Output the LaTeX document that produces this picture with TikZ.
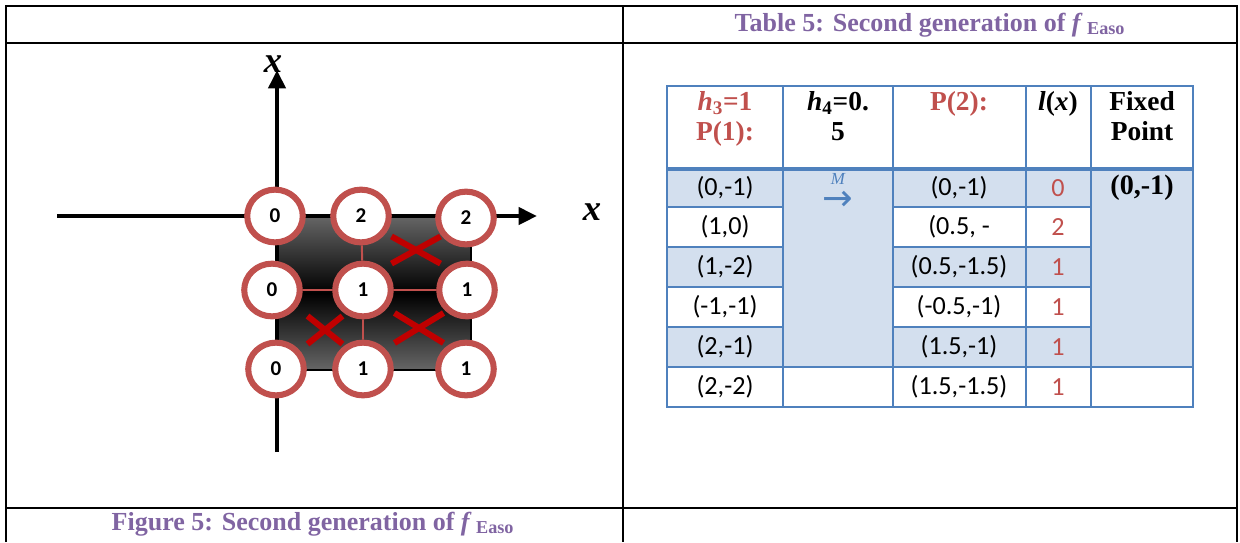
\documentclass[tikz,border=0pt]{standalone}
\usepackage{fontspec}
\setmainfont{Liberation Serif}
\newfontfamily\calibri{Carlito}
\newfontfamily\arrowfont{DejaVu Sans}
\usetikzlibrary{arrows.meta,shapes.geometric,shapes.misc}
\definecolor{capviolet}{HTML}{8064A2}
\definecolor{ringred}{HTML}{C0504D}
\definecolor{crossred}{HTML}{C00000}
\definecolor{tabblue}{HTML}{4F81BD}
\definecolor{rowblue}{HTML}{D3DFEE}

\begin{document}
\begin{tikzpicture}[x=0.025cm,y=-0.025cm,
  ring/.style={ellipse,draw=ringred,line width=4.3pt,fill=white,minimum width=39.5pt,
    minimum height=37.5pt,inner sep=0pt,font=\calibri\bfseries\fontsize{15}{15}\selectfont},
  link/.style={ringred,line width=1.4pt},
  cross/.style={cross out,draw=crossred,line width=4.3pt,inner sep=0pt},
  axis/.style={line width=2.8pt,-{Triangle[length=13pt,width=12pt]}},
  axlab/.style={font=\bfseries\itshape\fontsize{26}{26}\selectfont},
  cell/.style={font=\calibri\fontsize{18.6}{20}\selectfont},
  head/.style={font=\bfseries\fontsize{19.5}{21.5}\selectfont,align=center,anchor=north},
  caption/.style={font=\bfseries\fontsize{18.5}{20}\selectfont,text=capviolet},
  grid/.style={tabblue,line width=2.1pt}]
\useasboundingbox (0,0) rectangle (1240,542);

% outer frame
\draw[line width=2.1pt] (6,542) -- (6,6) -- (1237,6) -- (1237,542);
\draw[line width=2.1pt] (6,43) -- (1237,43) (6,508) -- (1237,508) (623,6) -- (623,542);
\node[caption] (tabcap) at (930,25) {Table 5: Second generation of \textit{f}\,\textsubscript{Easo}};
\node[caption] (figcap) at (313,524) {Figure 5: Second generation of \textit{f}\,\textsubscript{Easo}};

% figure
\path[draw,line width=2.1pt,top color=black!60,bottom color=black!60,middle color=black]
  (277,216) rectangle (471,370);
\coordinate (xl) at (57,216);
\coordinate (xr) at (537,216);
\coordinate (yb) at (277,452);
\coordinate (yt) at (277,70);
\draw[axis] (xl) -- (xr);
\draw[axis] (yb) -- (yt);
\node[axlab] (xlab) at (592,212) {x};
\node[axlab] (ylab) at (273,64) {x};

\foreach \n/\x/\y/\t in {a1/275/216/0, a2/361/216/2, a3/466/218/2,
                         b1/272/290/0, b2/363/290/1, b3/467/290/1,
                         c1/276/369/0, c2/363/369/1, c3/466/369/1}
  \node[ring] (\n) at (\x,\y) {\t};
\draw[link] (b1) -- (b2) (b2) -- (b3) (a2) -- (b2) (b2) -- (c2);

\node[cross,minimum width=30.6pt,minimum height=15pt] (x1) at (416,250) {};
\node[cross,minimum width=20.6pt,minimum height=15.6pt] (x2) at (325,330) {};
\node[cross,minimum width=30.6pt,minimum height=17pt] (x3) at (419,328) {};

% table
\fill[rowblue] (783,169) rectangle (893,367) (1091,169) rectangle (1193,367);
\foreach \ya/\yb in {169/207, 247/287, 327/367}
  \fill[rowblue] (667,\ya) rectangle (783,\yb) (893,\ya) rectangle (1091,\yb);
\draw[grid] (667,86) rectangle (1193,407);
\draw[grid,line width=2.8pt] (667,169) -- (1193,169);
\draw[grid] (667,367) -- (1193,367);
\foreach \x in {783,893,1026,1091}
  \draw[grid] (\x,86) -- (\x,407);
\foreach \y in {207,247,287,327}
  \draw[grid] (667,\y) -- (783,\y) (893,\y) -- (1091,\y);

\node[head,text=ringred] (h1) at (725,86) {\textit{h}\textsubscript{3}=1\\P(1):};
\node[head] (h2) at (838,86) {\textit{h}\textsubscript{4}=0.\\5};
\node[head,text=ringred] (h3) at (959,86) {P(2):};
\node[head] (h4) at (1058,86) {\textit{l}(\textit{x})};
\node[head] (h5) at (1142,86) {Fixed\\Point};

\foreach \y/\a/\b/\c [count=\r] in {188/{(0,-1)}/{(0,-1)}/0, 227/{(1,0)}/{(0.5, -}/2,
    267/{(1,-2)}/{(0.5,-1.5)}/1, 307/{(-1,-1)}/{(-0.5,-1)}/1,
    347/{(2,-1)}/{(1.5,-1)}/1, 387/{(2,-2)}/{(1.5,-1.5)}/1} {
  \node[cell] (p1-\r) at (725,\y) {\a};
  \node[cell] (p2-\r) at (959,\y) {\b};
  \node[cell,text=ringred] (l-\r) at (1058,\y) {\c};
}
\node[text=tabblue,font=\itshape\fontsize{12}{12}\selectfont,inner sep=0pt,
  text depth=0pt,anchor=base] (mlab) at (838,184) {M};
\node[text=tabblue,font=\arrowfont\fontsize{26}{26}\selectfont,inner sep=0pt,
  text height=11pt,text depth=0pt,anchor=base] (map) at (838,210) {→};
\node[font=\bfseries\fontsize{20}{20}\selectfont] (fp) at (1142,188) {(0,-1)};
\end{tikzpicture}
\end{document}
